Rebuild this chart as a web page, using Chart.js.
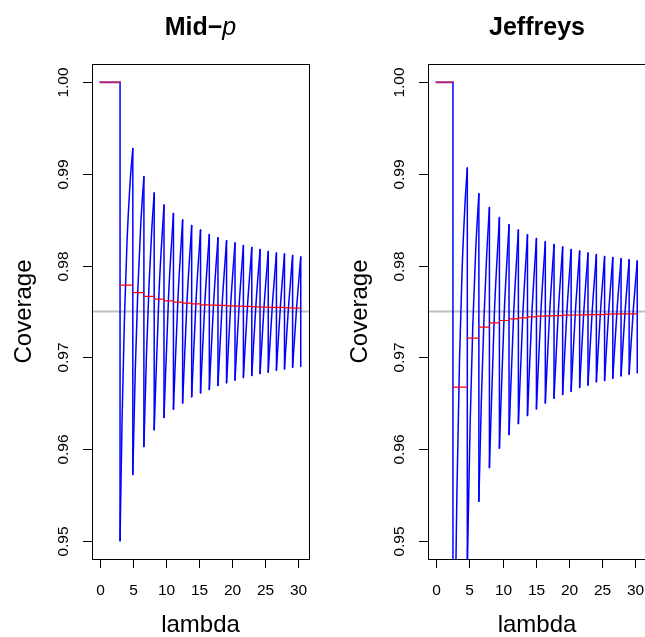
<!DOCTYPE html>
<html>
<head>
<meta charset="utf-8">
<script src="https://cdn.jsdelivr.net/npm/chart.js@4"></script>
<style>
    html, body { margin: 0; padding: 0; background: #ffffff; overflow: hidden; }
    body { width: 645px; height: 637px; position: relative; }
    canvas { position: absolute; top: 0; }
    #midpChart { left: 0; }
    #jeffChart { left: 336px; }
</style>
</head>
<body>
<canvas id="midpChart" width="322" height="637"></canvas>
<canvas id="jeffChart" width="322" height="637"></canvas>
<script>
// Axis ticks
const xTicks = [0, 5, 10, 15, 20, 25, 30];
const yTicks = [0.95, 0.96, 0.97, 0.98, 0.99, 1.00];
const yTickLabels = ['0.95', '0.96', '0.97', '0.98', '0.99', '1.00'];
const nominalLevel = 0.975;

// Mid-p: lambda where coverage jumps, coverage just before / after each jump
const midpJumps = [2.996, 4.93, 6.607, 8.165, 9.648, 11.08, 12.47, 13.84, 15.18, 16.51, 17.82,
    19.12, 20.40, 21.67, 22.94, 24.19, 25.43, 26.67, 27.89, 29.12, 30.35];
const midpPeaks = [1.0, 0.99278, 0.98970, 0.98793, 0.98662, 0.98570, 0.98498, 0.98439, 0.98389, 0.98341, 0.98305,
    0.98272, 0.98247, 0.98221, 0.98199, 0.98177, 0.98155, 0.98138, 0.98127, 0.98111, 0.98094];
const midpTroughs = [0.95000, 0.95722, 0.96028, 0.96209, 0.96343, 0.96434, 0.96503, 0.96569, 0.96612, 0.96648, 0.96692,
    0.96722, 0.96754, 0.96780, 0.96801, 0.96823, 0.96838, 0.96860, 0.96874, 0.96893, 0.96900];
// points read along each rising tooth
const midpRiseLambda = [[3.3, 3.65, 4.05, 4.5], [5.3, 5.7, 6.15], [7.0, 7.4, 7.8], [8.91], [10.36], [11.78], [13.16],
    [14.51], [15.85], [17.17], [18.47], [19.76], [21.04], [22.31], [23.57], [24.81], [26.05], [27.28], [28.51], [29.74]];
const midpRiseCov = [[0.9631, 0.9740, 0.9826, 0.9889], [0.96855, 0.97758, 0.98475], [0.97036, 0.97813, 0.98393],
    [0.97733], [0.97697], [0.97670], [0.97649], [0.97635], [0.97617], [0.97604], [0.97599], [0.97592], [0.97587],
    [0.97583], [0.97576], [0.97570], [0.97565], [0.97566], [0.97562], [0.97560]];
// average coverage on each tooth (red)
const midpMeans = [0.97788, 0.97707, 0.97664, 0.97635, 0.97617, 0.97603, 0.97592, 0.97584, 0.97573, 0.97570,
    0.97566, 0.97562, 0.97559, 0.97555, 0.97551, 0.97548, 0.97544, 0.97544, 0.97540, 0.97537];

// Jeffreys
const jeffJumps = [2.512, 4.674, 6.416, 8.006, 9.511, 10.96, 12.37, 13.74, 15.09, 16.43, 17.74,
    19.04, 20.32, 21.60, 22.86, 24.12, 25.36, 26.60, 27.84, 29.06, 30.28];
const jeffPeaks = [1.0, 0.99065, 0.98785, 0.98635, 0.98526, 0.98447, 0.98389, 0.98337, 0.98297, 0.98261, 0.98231,
    0.98203, 0.98177, 0.98159, 0.98137, 0.98122, 0.98100, 0.98090, 0.98075, 0.98064, 0.98050];
const jeffTroughs = [0.9189, 0.94703, 0.95430, 0.95797, 0.96009, 0.96157, 0.96277, 0.96365, 0.96438, 0.96503, 0.96555,
    0.96594, 0.96631, 0.96670, 0.96697, 0.96733, 0.96747, 0.96773, 0.96798, 0.96817, 0.96831];
const jeffRiseLambda = [[2.8, 3.1, 3.5, 3.9, 4.3], [5.1, 5.5, 5.95], [6.8, 7.2, 7.6], [8.76], [10.24], [11.67], [13.06],
    [14.42], [15.76], [17.09], [18.39], [19.68], [20.96], [22.23], [23.49], [24.74], [25.98], [27.22], [28.45], [29.67]];
const jeffRiseCov = [[0.9392, 0.9550, 0.9698, 0.9798, 0.9864], [0.96281, 0.97344, 0.98189], [0.96556, 0.97453, 0.98124],
    [0.97492], [0.97493], [0.97495], [0.97495], [0.97497], [0.97498], [0.97500], [0.97500], [0.97496], [0.97499],
    [0.97499], [0.97500], [0.97499], [0.97498], [0.97499], [0.97502], [0.97501]];
const jeffMeans = [0.96675, 0.97210, 0.97330, 0.97377, 0.97402, 0.97420, 0.97431, 0.97442, 0.97450, 0.97453,
    0.97456, 0.97460, 0.97462, 0.97464, 0.97467, 0.97467, 0.97471, 0.97475, 0.97475, 0.97475];

const FONT = '"Liberation Sans", Arial, Helvetica, sans-serif';

function buildSeries(jumps, peaks, troughs, riseX, riseY, means) {
    const rise = [], drop = [], mean = [];
    const flat = [{ x: 0, y: 1 }, { x: jumps[0], y: 1 }];
    for (let k = 0; k < jumps.length; k++) {
        // vertical drop at each jump
        drop.push({ x: jumps[k], y: peaks[k] }, { x: jumps[k], y: troughs[k] }, { x: jumps[k], y: null });
        if (k < jumps.length - 1) {
            rise.push({ x: jumps[k], y: troughs[k] });
            riseX[k].forEach((x, i) => rise.push({ x: x, y: riseY[k][i] }));
            rise.push({ x: jumps[k + 1], y: peaks[k + 1] }, { x: jumps[k + 1], y: null });
            mean.push({ x: jumps[k], y: means[k] }, { x: jumps[k + 1], y: means[k] }, { x: jumps[k + 1], y: null });
        }
    }
    return { rise, drop, mean, flat };
}

function framePlugin(drawTitle) {
    return {
        id: 'frame',
        beforeDatasetsDraw(chart) {
            const { ctx, chartArea: a, scales: { y } } = chart;
            const yy = y.getPixelForValue(nominalLevel);
            ctx.save();
            ctx.strokeStyle = '#bebebe';
            ctx.lineWidth = 2;
            ctx.beginPath();
            ctx.moveTo(a.left, yy);
            ctx.lineTo(a.right, yy);
            ctx.stroke();
            ctx.restore();
        },
        afterDraw(chart) {
            const { ctx, chartArea: a, scales: { x, y } } = chart;
            const cx = (a.left + a.right) / 2;
            ctx.save();
            ctx.strokeStyle = '#000000';
            ctx.fillStyle = '#000000';
            ctx.lineWidth = 1;
            ctx.strokeRect(a.left + 0.5, a.top + 0.5, a.width, a.height);

            // x ticks + labels
            ctx.font = '15.5px ' + FONT;
            ctx.textAlign = 'center';
            ctx.textBaseline = 'alphabetic';
            xTicks.forEach(v => {
                const px = Math.round(x.getPixelForValue(v)) + 0.5;
                ctx.beginPath();
                ctx.moveTo(px, a.bottom);
                ctx.lineTo(px, a.bottom + 9);
                ctx.stroke();
                ctx.fillText(String(v), px, 595);
            });

            // y ticks + rotated labels
            yTicks.forEach((v, i) => {
                const py = Math.round(y.getPixelForValue(v)) + 0.5;
                ctx.beginPath();
                ctx.moveTo(a.left - 9, py);
                ctx.lineTo(a.left, py);
                ctx.stroke();
                ctx.save();
                ctx.translate(a.left - 24, py);
                ctx.rotate(-Math.PI / 2);
                ctx.fillText(yTickLabels[i], 0, 0);
                ctx.restore();
            });

            // axis titles
            ctx.font = '24px ' + FONT;
            ctx.fillText('lambda', cx, 632);
            ctx.save();
            ctx.translate(31, (a.top + a.bottom) / 2);
            ctx.rotate(-Math.PI / 2);
            ctx.fillText('Coverage', 0, 0);
            ctx.restore();

            drawTitle(ctx, cx, 35);
            ctx.restore();
        }
    };
}

function createPanel(canvasId, series, drawTitle, padRight) {
    const ctx = document.getElementById(canvasId).getContext('2d');
    return new Chart(ctx, {
        type: 'line',
        data: {
            datasets: [
                { data: series.mean, borderColor: '#ff0000', borderWidth: 1.2, order: 0 },
                { data: series.flat, borderColor: '#a0207a', borderWidth: 2, order: 1 },
                { data: series.drop, borderColor: '#0000ff', borderWidth: 1.5, order: 2 },
                { data: series.rise, borderColor: '#0000ff', borderWidth: 1.5, order: 2,
                  cubicInterpolationMode: 'monotone' }
            ]
        },
        options: {
            responsive: false,
            animation: false,
            events: [],
            layout: { padding: { left: 92, right: padRight, top: 64, bottom: 78 } },
            elements: {
                point: { radius: 0 },
                line: { borderCapStyle: 'round', borderJoinStyle: 'round', capBezierPoints: false }
            },
            plugins: { legend: { display: false }, tooltip: { enabled: false } },
            scales: {
                x: { type: 'linear', min: -1.25, max: 31.6, display: false },
                y: { type: 'linear', min: 0.948, max: 1.002, display: false }
            }
        },
        plugins: [framePlugin(drawTitle)]
    });
}

function drawMidpTitle(ctx, cx, base) {
    ctx.textAlign = 'left';
    ctx.font = 'bold 25px ' + FONT;
    const w1 = ctx.measureText('Mid\u2212').width;
    ctx.font = 'italic 25px ' + FONT;
    const w2 = ctx.measureText('p').width;
    const x0 = cx - (w1 + w2) / 2;
    ctx.font = 'bold 25px ' + FONT;
    ctx.fillText('Mid\u2212', x0, base);
    ctx.font = 'italic 25px ' + FONT;
    ctx.fillText('p', x0 + w1, base);
}

function drawJeffTitle(ctx, cx, base) {
    ctx.textAlign = 'center';
    ctx.font = 'bold 25px ' + FONT;
    ctx.fillText('Jeffreys', cx, base);
}

createPanel('midpChart',
    buildSeries(midpJumps, midpPeaks, midpTroughs, midpRiseLambda, midpRiseCov, midpMeans), drawMidpTitle, 13);
createPanel('jeffChart',
    buildSeries(jeffJumps, jeffPeaks, jeffTroughs, jeffRiseLambda, jeffRiseCov, jeffMeans), drawJeffTitle, 12);
</script>
</body>
</html>
